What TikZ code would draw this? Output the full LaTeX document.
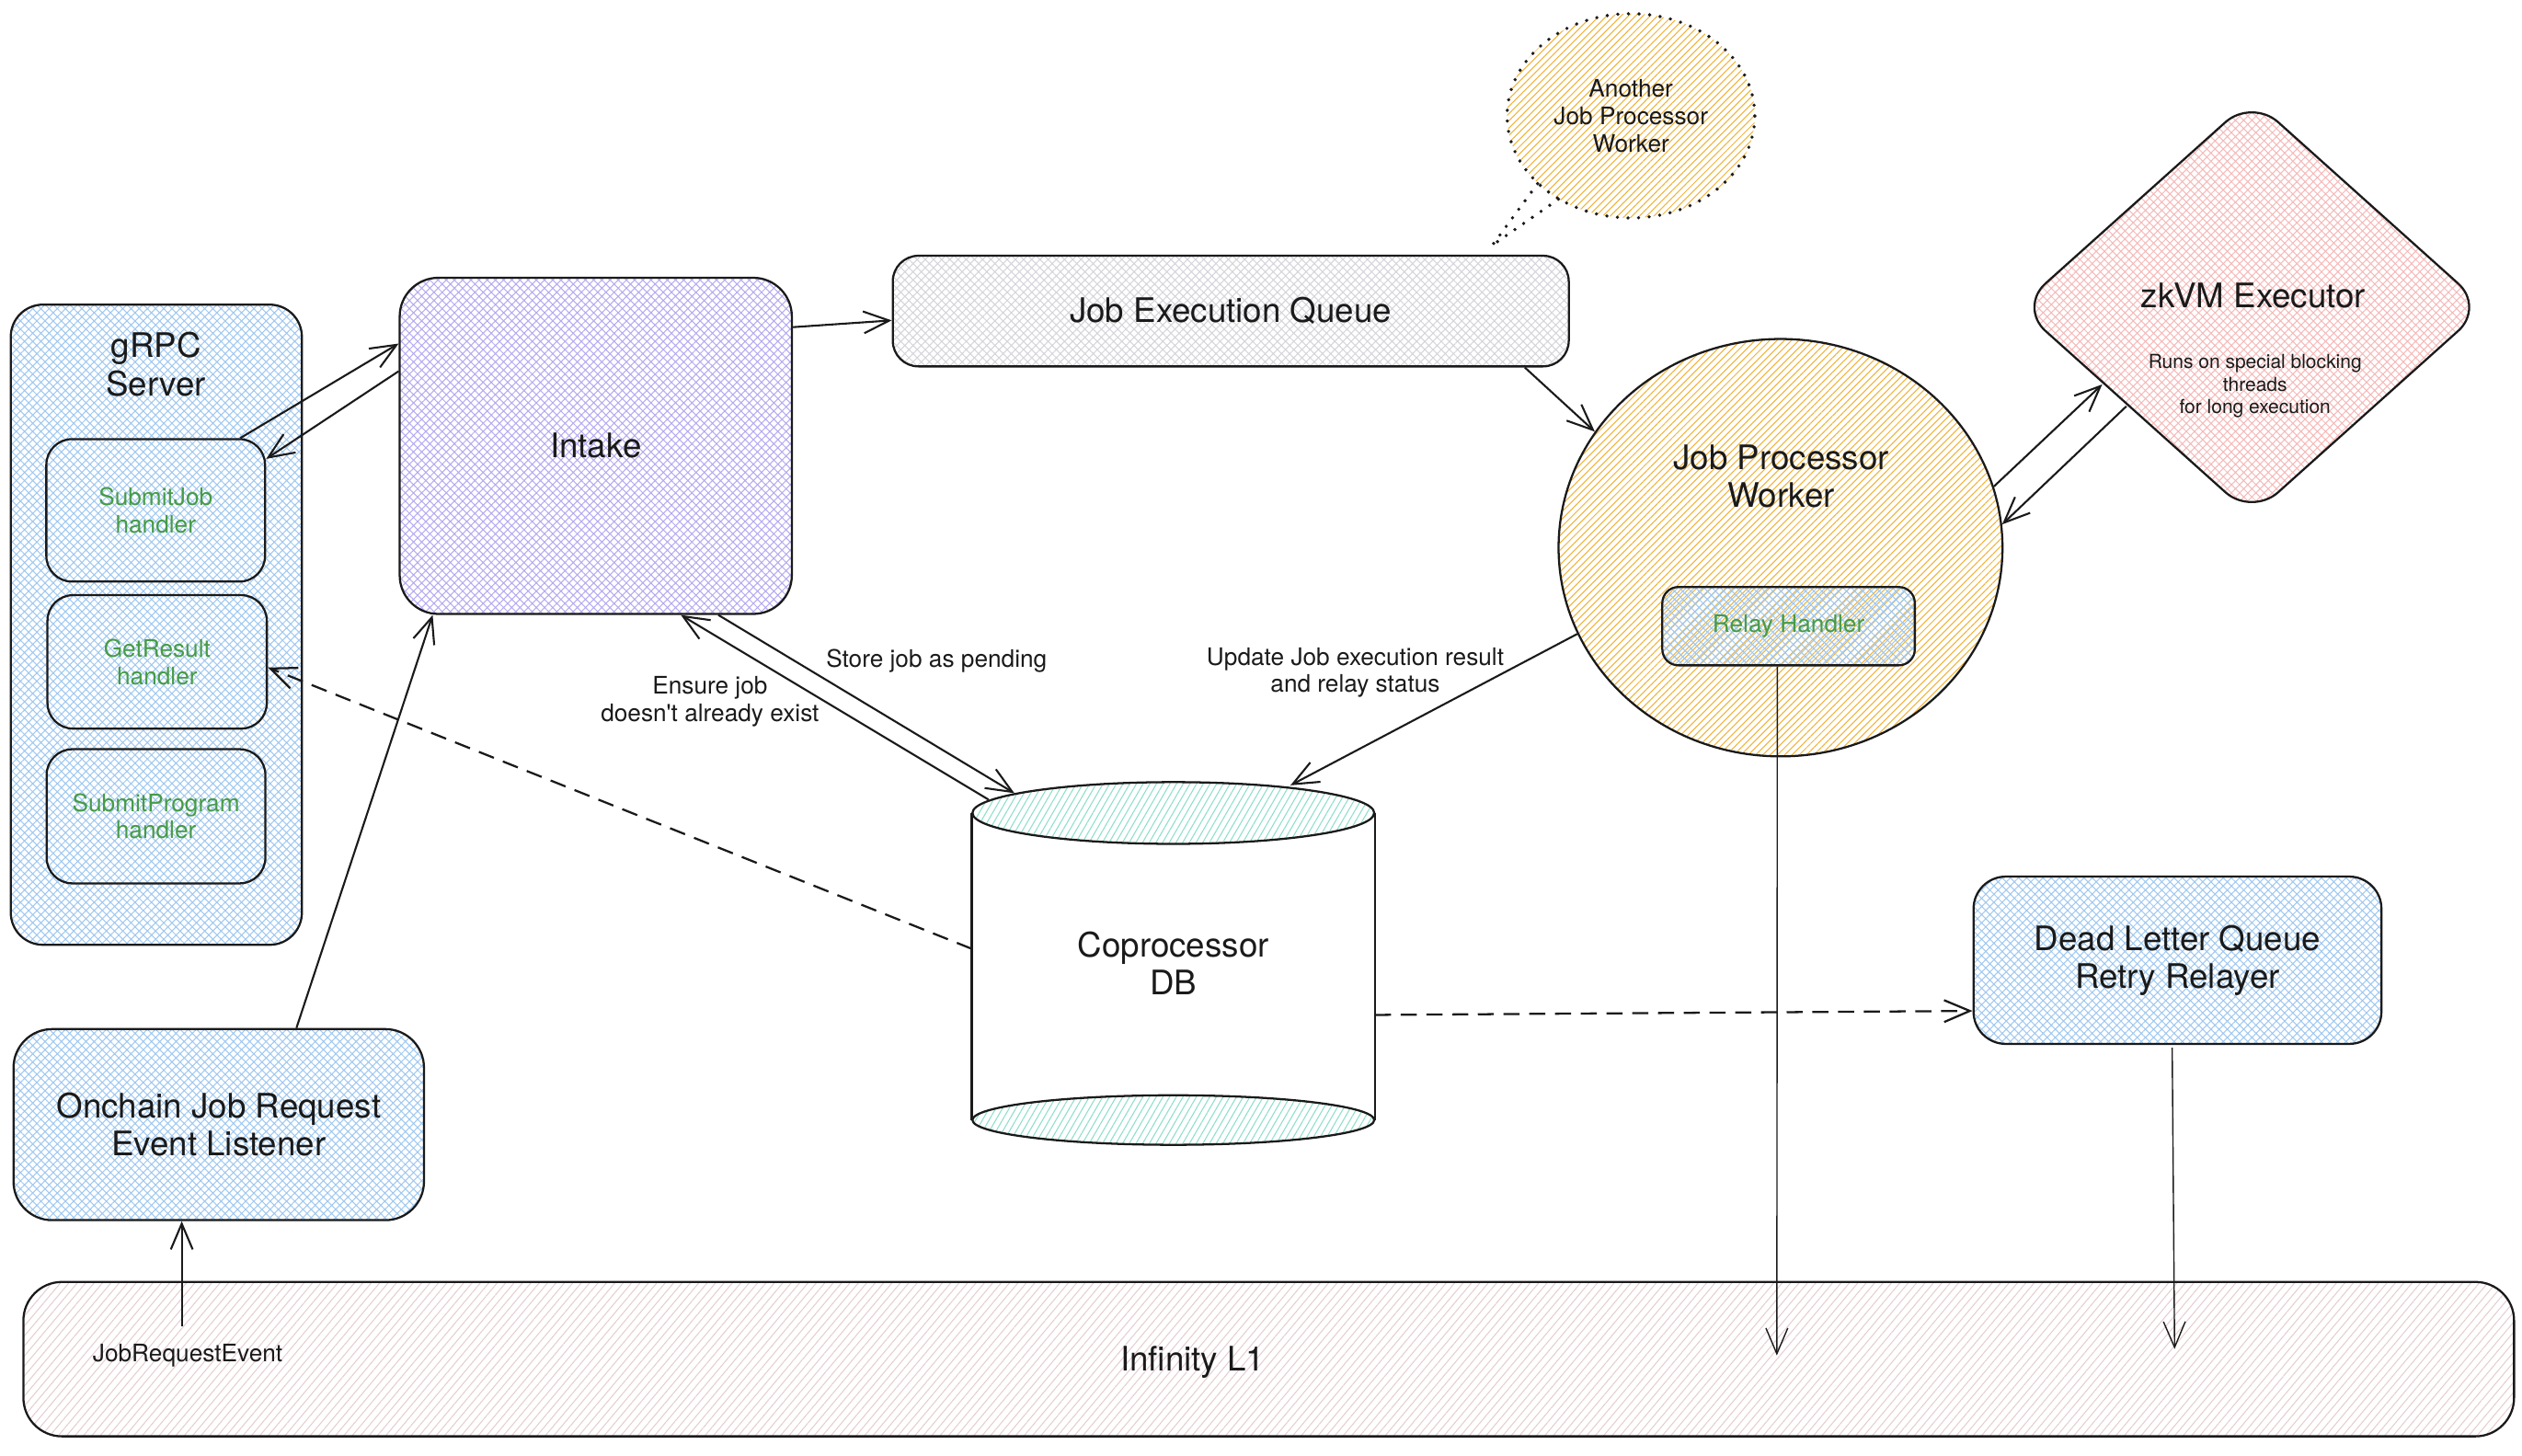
\documentclass[tikz,border=0pt]{standalone}
\usepackage{fontspec}
\setmainfont{TeX Gyre Heros}[Ligatures=TeXOff]
\usetikzlibrary{shapes.geometric,arrows.meta,patterns.meta,calc}
\definecolor{hblue}{RGB}{160,200,240}
\definecolor{hpurple}{RGB}{182,170,240}
\definecolor{hgray}{RGB}{212,212,218}
\definecolor{horange}{RGB}{240,178,55}
\definecolor{hpink}{RGB}{245,185,185}
\definecolor{hteal}{RGB}{140,222,200}
\definecolor{hinf}{RGB}{228,206,206}
\definecolor{hgreen}{RGB}{70,155,70}
\definecolor{ink}{RGB}{26,26,26}
\begin{document}
\begin{tikzpicture}[x=0.5pt,y=-0.5pt,
  outl/.style={draw=ink,line width=0.65pt,inner sep=0pt},
  bigtxt/.style={font=\fontsize{10.5}{11.75}\selectfont,align=center,text=ink},
  smalltxt/.style={font=\fontsize{7.5}{8.5}\selectfont,align=center,text=ink},
  tinytxt/.style={font=\fontsize{6}{7}\selectfont,align=center,text=ink},
  greentxt/.style={font=\fontsize{7.5}{8.5}\selectfont,align=center,text=hgreen},
  blueX/.style={pattern={Hatch[angle=45,distance=1.8pt,line width=0.3pt]},pattern color=hblue},
  purpleX/.style={pattern={Hatch[angle=45,distance=1.8pt,line width=0.3pt]},pattern color=hpurple},
  grayX/.style={pattern={Hatch[angle=45,distance=1.8pt,line width=0.3pt]},pattern color=hgray},
  pinkX/.style={pattern={Hatch[angle=45,distance=1.8pt,line width=0.3pt]},pattern color=hpink},
  orangeL/.style={pattern={Lines[angle=45,distance=1.6pt,line width=0.3pt]},pattern color=horange},
  tealL/.style={pattern={Lines[angle=60,distance=1.8pt,line width=0.3pt]},pattern color=hteal},
  infL/.style={pattern={Lines[angle=50,distance=2pt,line width=0.3pt]},pattern color=hinf},
  arr/.style={draw=ink,line width=0.6pt,-{Straight Barb[length=8pt,width=6.8pt]}},
  arrthin/.style={arr,line width=0.4pt},
  dsh/.style={arr,line width=0.65pt,dash pattern=on 5pt off 3pt},
  dotline/.style={draw=ink,line width=1.1pt,line cap=round,dash pattern=on 0pt off 3.3pt}
]
\useasboundingbox (0,0) rectangle (1568,904.66);

% gRPC server
\node[rectangle,outl,rounded corners=10pt,blueX,minimum width=90.5pt,minimum height=199pt] (grpc) at (97.2,388.4) {};
\node[bigtxt] (grpctxt) at (97,226.5) {gRPC\\Server};
\node[rectangle,outl,rounded corners=8pt,minimum width=68pt,minimum height=44.3pt,greentxt] (submitjob) at (96.8,317.3) {SubmitJob\\handler};
\node[rectangle,outl,rounded corners=8pt,minimum width=68.2pt,minimum height=41.5pt,greentxt] (getresult) at (97.7,411.5) {GetResult\\handler};
\node[rectangle,outl,rounded corners=8pt,minimum width=68pt,minimum height=41.7pt,greentxt] (submitprog) at (97,507.5) {SubmitProgram\\handler};

% Intake
\node[rectangle,outl,rounded corners=12pt,purpleX,minimum width=121.9pt,minimum height=104.5pt,bigtxt] (intake) at (370.4,277.2) {Intake};

% Job execution queue
\node[rectangle,outl,rounded corners=8pt,grayX,minimum width=210.15pt,minimum height=34.4pt,bigtxt] (jeq) at (765.2,193.4) {Job Execution Queue};

% Another worker
\node[ellipse,orangeL,minimum width=77pt,minimum height=63.5pt,inner sep=0pt,smalltxt] (another) at (1014,72) {Another\\Job Processor\\Worker};
\draw[dotline] (another.center) ellipse [x radius=38.5pt,y radius=31.75pt];
\coordinate (tip) at (927.8,152.5);
\draw[dotline] (another.216) -- (tip);
\draw[dotline] (another.229) -- (tip);

% zkVM executor
\node[diamond,outl,rounded corners=11pt,pinkX,minimum width=145pt,minimum height=130pt] (zkvm) at (1400,191) {};
\node[bigtxt] (zkvmtitle) at (1401,183.5) {zkVM Executor};
\node[tinytxt] (zkvmnote) at (1402,240) {Runs on special blocking\\threads\\for long execution};

% Job processor worker
\node[ellipse,outl,orangeL,minimum width=138pt,minimum height=129.75pt] (jpw) at (1107,340.5) {};
\node[bigtxt] (jpwtxt) at (1107.4,296.3) {Job Processor\\Worker};
\node[rectangle,outl,rounded corners=5pt,blueX,minimum width=78.5pt,minimum height=24.35pt,greentxt] (relay) at (1112,389.3) {Relay Handler};

% Coprocessor DB
\node[rectangle,inner sep=0pt,minimum width=124.9pt,minimum height=112.35pt,bigtxt] (db) at (729.5,599) {Coprocessor\\DB};
\draw[draw=ink,line width=0.65pt] ($(db.north west)+(0,-9.6pt)$) -- ($(db.south west)+(0,7.7pt)$);
\draw[draw=ink,line width=0.65pt] ($(db.north east)+(0,-9.6pt)$) -- ($(db.south east)+(0,7.7pt)$);
\draw[draw=ink,line width=0.65pt,tealL] ($(db.north)+(0,-9.6pt)$) ellipse [x radius=62.45pt,y radius=9.6pt];
\draw[draw=ink,line width=0.65pt,tealL] ($(db.south)+(0,7.7pt)$) ellipse [x radius=62.45pt,y radius=7.7pt];

% Dead letter queue
\node[rectangle,outl,rounded corners=10pt,blueX,minimum width=126.8pt,minimum height=52pt,bigtxt] (dlq) at (1353.8,597) {Dead Letter Queue\\Retry Relayer};

% Onchain listener
\node[rectangle,outl,rounded corners=12pt,blueX,minimum width=127.6pt,minimum height=59.4pt,bigtxt] (onchain) at (136,699.2) {Onchain Job Request\\Event Listener};

% Infinity L1
\node[rectangle,outl,rounded corners=12pt,infL,minimum width=774.25pt,minimum height=48pt] (infl1) at (788.8,845) {};
\node[bigtxt] (infl1txt) at (741.5,847) {Infinity L1};
\node[smalltxt] (jre) at (116.7,843) {JobRequestEvent};

% edge labels
\node[smalltxt] (lstore) at (582.3,410.7) {Store job as pending};
\node[smalltxt] (lensure) at (441.4,436) {Ensure job\\doesn't already exist};
\node[smalltxt] (lupdate) at (842.6,418.2) {Update Job execution result\\and relay status};

% connectors
\draw[arr] ([xshift=26.3pt]submitjob.north) -- ([yshift=31.8pt]intake.west);
\draw[arr] ([yshift=23.2pt]intake.west) -- ([yshift=16pt]submitjob.east);
\draw[arr] ([xshift=24.15pt]onchain.north) -- ([xshift=-50.7pt]intake.south);
\draw[arr] ([yshift=36.9pt]intake.east) -- ([yshift=-2.9pt]jeq.west);
\draw[arr] ([xshift=91.4pt]jeq.south) -- (jpw.148);
\draw[arr] (jpw.16) -- ([shift={(-46.5pt,-24pt)}]zkvm.center);
\draw[arr] ([shift={(-39pt,-30.8pt)}]zkvm.center) -- (jpw.6);
\draw[arr] ([xshift=38.1pt]intake.south) -- ([shift={(-49.4pt,-3.45pt)}]db.north);
\draw[arr] ([shift={(-57.45pt,-5.45pt)}]db.north) -- ([xshift=26.45pt]intake.south);
\draw[arr] (jpw.203) -- ([shift={(36.4pt,-1pt)}]db.north);
\draw[dsh] ([yshift=4.55pt]db.west) -- ([yshift=-1.75pt]getresult.east);
\draw[dsh] ([yshift=-16pt]db.east) -- ([yshift=-15.75pt]dlq.west);
\draw[arrthin] ([xshift=-3.5pt]relay.south) -- ([shift={(157.95pt,-23pt)}]infl1.north);
\draw[arrthin] ([shift={(-1.65pt,-0.85pt)}]dlq.south) -- ([shift={(281.6pt,-21pt)}]infl1.north);
\draw[arr] ([shift={(-337.9pt,-14pt)}]infl1.north) -- ([xshift=-11.5pt]onchain.south);
\end{tikzpicture}
\end{document}
